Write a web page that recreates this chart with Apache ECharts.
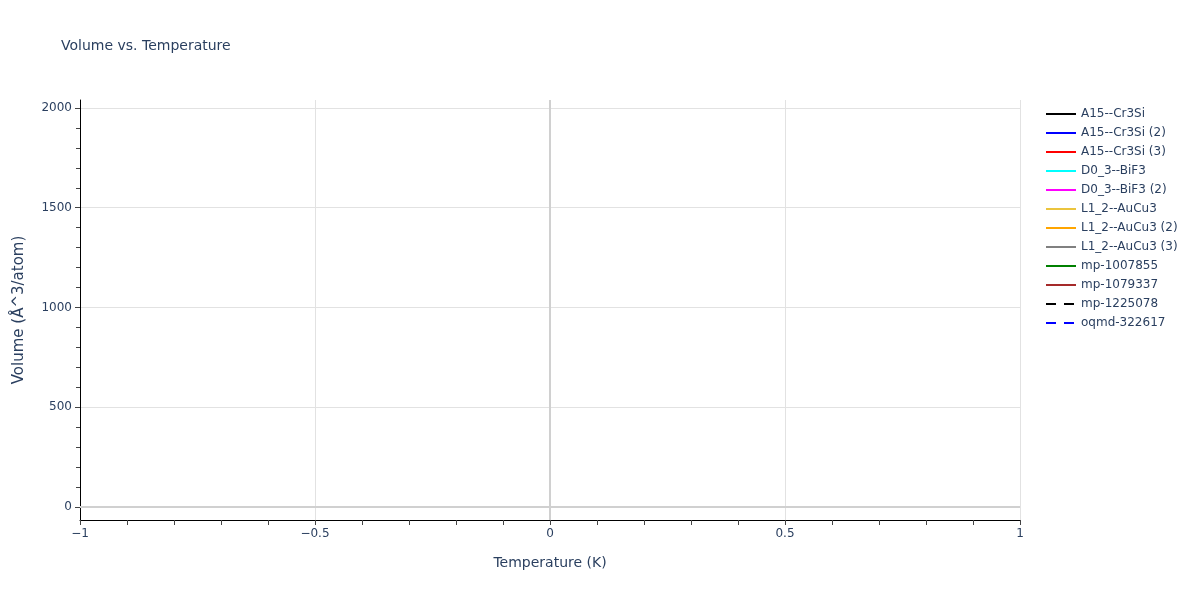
<!DOCTYPE html>
<html>
<head>
<meta charset="utf-8">
<script src="https://cdn.jsdelivr.net/npm/echarts@6/dist/echarts.min.js"></script>
<style>html,body{margin:0;padding:0;background:#fff}#c{width:1200px;height:600px}</style>
</head>
<body>
<div id="c"></div>
<script>
// Series names and colours (legend order)
const seriesNames = ['A15--Cr3Si','A15--Cr3Si (2)','A15--Cr3Si (3)','D0_3--BiF3','D0_3--BiF3 (2)','L1_2--AuCu3','L1_2--AuCu3 (2)','L1_2--AuCu3 (3)','mp-1007855','mp-1079337','mp-1225078','oqmd-322617'];
const seriesColors = ['#000000','#0000ff','#ff0000','#00ffff','#ff00ff','#ebc43d','#ffa500','#808080','#008000','#a52a2a','#000000','#0000ff'];
const seriesDashed = [false,false,false,false,false,false,false,false,false,false,true,true];
// No data points are visible in the reference: every series is empty
const temperatures = [];
const volumes = [[],[],[],[],[],[],[],[],[],[],[],[]];
// Axis ticks
const xTicks = [-1,-0.5,0,0.5,1];
const yMajorTicks = [0,500,1000,1500,2000];
const yMinorTicks = [100,200,300,400,600,700,800,900,1100,1200,1300,1400,1600,1700,1800,1900];
const zeroValues = [0];

const FONT = 'DejaVu Sans';
const TXT = '#2a3f5f';

const series = seriesNames.map((n,i)=>({
  name:n, type:'line', symbol:'none', showSymbol:false,
  data: temperatures.map((t,j)=>[t, volumes[i][j]]),
  lineStyle:{color:seriesColors[i], width:2, type: seriesDashed[i] ? [10,8] : 'solid'},
  itemStyle:{color:seriesColors[i]}
}));
series.push({
  name:'zero', type:'line', data:[], silent:true, symbol:'none', z:1,
  markLine:{silent:true, symbol:'none', label:{show:false},
    lineStyle:{color:'#d0d0d0', width:2, type:'solid'},
    data: zeroValues.flatMap(v=>[{yAxis:v},{xAxis:v}])}
});

const chart = echarts.init(document.getElementById('c'));
chart.setOption({
  animation:false,
  backgroundColor:'#fff',
  title:{text:'Volume vs. Temperature', left:61, top:39, padding:0,
    textStyle:{fontFamily:FONT, fontSize:14, fontWeight:'normal', color:TXT}},
  legend:{data:seriesNames, orient:'vertical', left:1045, top:108, padding:0,
    itemWidth:30, itemHeight:14, itemGap:7,
    itemStyle:{opacity:0},
    textStyle:{fontFamily:FONT, fontSize:12, color:TXT}},
  grid:{left:80, right:180, top:100, bottom:80, containLabel:false},
  xAxis:{type:'value', min:xTicks[0], max:xTicks[xTicks.length-1], interval:0.5,
    name:'Temperature (K)', nameLocation:'middle', nameGap:36,
    nameTextStyle:{fontFamily:FONT, fontSize:14, color:TXT},
    axisLine:{show:true, onZero:false, lineStyle:{color:'#000', width:1}},
    axisTick:{show:true, length:5, lineStyle:{color:'#444'}},
    minorTick:{show:true, splitNumber:5, length:5, lineStyle:{color:'#444'}},
    axisLabel:{margin:8, fontFamily:FONT, fontSize:12, color:TXT,
      formatter:v=>String(v).replace('-','\u2212')},
    splitLine:{show:true, lineStyle:{color:'#e2e2e2', width:1}}
  },
  yAxis:[{type:'value', min:-65, max:2040,
    name:'Volume (\u00c5^3/atom)', nameLocation:'middle', nameGap:53,
    nameTextStyle:{fontFamily:FONT, fontSize:15, color:TXT},
    axisLine:{show:true, onZero:false, lineStyle:{color:'#000', width:1}},
    axisTick:{show:true, length:5, customValues:yMajorTicks, lineStyle:{color:'#444'}},
    axisLabel:{margin:8, customValues:yMajorTicks, fontFamily:FONT, fontSize:12, color:TXT,
      formatter:v=>String(v)},
    splitLine:{show:true, lineStyle:{color:'#e2e2e2', width:1}}
  },{type:'value', min:-65, max:2040, position:'left',
    axisLine:{show:false, onZero:false},
    axisTick:{show:true, length:4, customValues:yMinorTicks, lineStyle:{color:'#444'}},
    axisLabel:{show:false},
    splitLine:{show:false}
  }],
  series:series
});
</script>
</body>
</html>
